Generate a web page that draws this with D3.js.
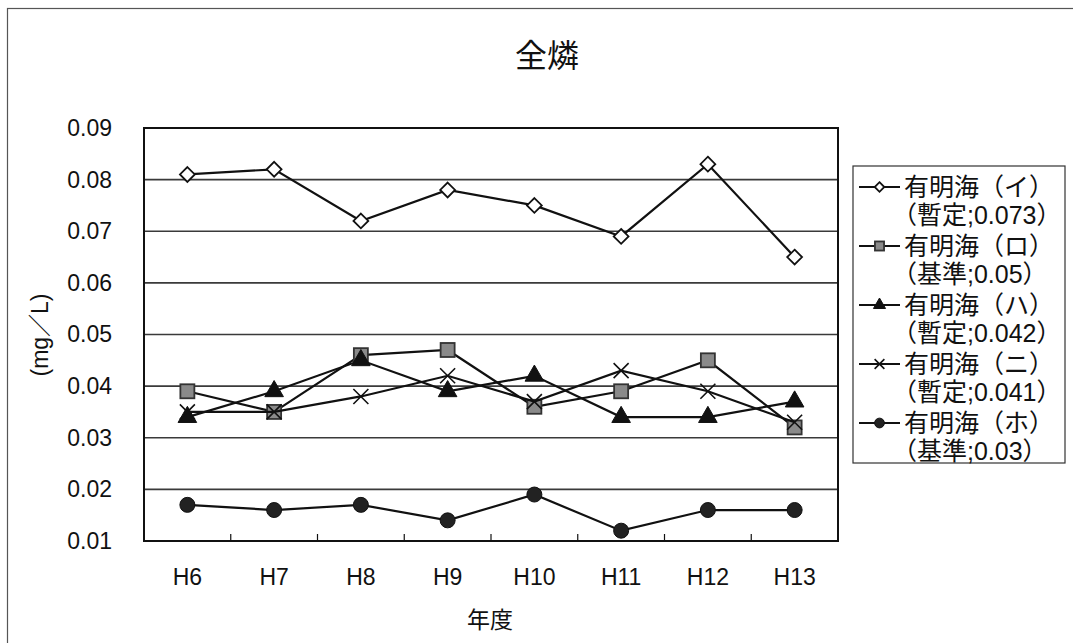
<!DOCTYPE html>
<html>
<head>
<meta charset="utf-8">
<script src="https://cdn.jsdelivr.net/npm/d3@7"></script>
<style>
  html, body { margin: 0; padding: 0; background: #fff; }
  svg { display: block; }
  text { font-family: "Liberation Sans", "Noto Sans CJK JP", sans-serif; fill: #111; }
</style>
</head>
<body>
<svg id="chart" width="1073" height="643"></svg>
<script>
// Fiscal years (Heisei)
const years = ["H6", "H7", "H8", "H9", "H10", "H11", "H12", "H13"];

// Total phosphorus (mg/L) at each Ariake Sea monitoring area
const seriesI   = [0.081, 0.082, 0.072, 0.078, 0.075, 0.069, 0.083, 0.065];
const seriesRo  = [0.039, 0.035, 0.046, 0.047, 0.036, 0.039, 0.045, 0.032];
const seriesHa  = [0.034, 0.039, 0.045, 0.039, 0.042, 0.034, 0.034, 0.037];
const seriesNi  = [0.035, 0.035, 0.038, 0.042, 0.037, 0.043, 0.039, 0.033];
const seriesHo  = [0.017, 0.016, 0.017, 0.014, 0.019, 0.012, 0.016, 0.016];

const seriesNames = ["有明海（イ）", "有明海（ロ）", "有明海（ハ）", "有明海（ニ）", "有明海（ホ）"];
const seriesNotes = ["（暫定;0.073）", "（基準;0.05）", "（暫定;0.042）", "（暫定;0.041）", "（基準;0.03）"];
const markerKinds = ["diamond", "square", "triangle", "cross", "circle"];

const yTicks = [0.01, 0.02, 0.03, 0.04, 0.05, 0.06, 0.07, 0.08, 0.09];

const series = [seriesI, seriesRo, seriesHa, seriesNi, seriesHo].map((vals, i) => ({
  name: seriesNames[i], note: seriesNotes[i], kind: markerKinds[i], values: vals
}));

const svg = d3.select("#chart");
const plot = { left: 144, right: 838, top: 128, bottom: 541 };

// Outer chart frame (extends past the right and bottom edges)
svg.append("rect")
  .attr("x", 7.5).attr("y", 8.5).attr("width", 1100).attr("height", 700)
  .attr("fill", "none").attr("stroke", "#555").attr("stroke-width", 1.2);

const x = d3.scaleBand().domain(years).range([plot.left, plot.right]);
const y = d3.scaleLinear().domain([0.01, 0.09]).range([plot.bottom, plot.top]);
const cx = d => x(d) + x.bandwidth() / 2;

// Horizontal gridlines
svg.append("g").selectAll("line").data(yTicks).join("line")
  .attr("x1", plot.left).attr("x2", plot.right)
  .attr("y1", d => y(d)).attr("y2", d => y(d))
  .attr("stroke", "#3a3a3a").attr("stroke-width", 1.6);

// Plot frame
svg.append("rect")
  .attr("x", plot.left).attr("y", plot.top)
  .attr("width", plot.right - plot.left).attr("height", plot.bottom - plot.top)
  .attr("fill", "none").attr("stroke", "#111").attr("stroke-width", 2);

// Category separator ticks along the bottom axis (inside the plot)
svg.append("g").selectAll("line").data(years.slice(1)).join("line")
  .attr("x1", d => x(d)).attr("x2", d => x(d))
  .attr("y1", plot.bottom).attr("y2", plot.bottom - 7)
  .attr("stroke", "#111").attr("stroke-width", 1.2);

// Y axis labels
const yAxis = svg.append("g")
  .attr("transform", `translate(${plot.left},0)`)
  .call(d3.axisLeft(y).tickValues(yTicks).tickFormat(d3.format(".2f")).tickSize(0).tickPadding(32));
yAxis.select(".domain").remove();
yAxis.selectAll("text").attr("font-size", 23).attr("font-family", "Liberation Sans, sans-serif").attr("fill", "#111");

// X axis labels
const xAxis = svg.append("g")
  .attr("transform", `translate(0,${plot.bottom})`)
  .call(d3.axisBottom(x).tickSize(0).tickPadding(28));
xAxis.select(".domain").remove();
xAxis.selectAll("text").attr("font-size", 23).attr("font-family", "Liberation Sans, sans-serif").attr("fill", "#111");

// Titles
svg.append("text").attr("x", 547).attr("y", 67).attr("text-anchor", "middle")
  .attr("font-size", 32).text("全燐");
svg.append("text").attr("x", 490).attr("y", 628).attr("text-anchor", "middle")
  .attr("font-size", 23).text("年度");
svg.append("text")
  .attr("transform", "translate(40,335) rotate(-90)")
  .attr("text-anchor", "middle").attr("dominant-baseline", "central")
  .attr("font-size", 23).text("(mg／L)");

// Marker drawing
function drawMarker(g, kind, s) {
  const k = s || 1;
  if (kind === "diamond") {
    g.append("path").attr("d", d3.symbol(d3.symbolDiamond2, 140 * k * k)())
      .attr("fill", "#fff").attr("stroke", "#111").attr("stroke-width", 1.8);
  } else if (kind === "square") {
    const h = 7 * k;
    g.append("rect").attr("x", -h).attr("y", -h).attr("width", 2 * h).attr("height", 2 * h)
      .attr("fill", "#8a8a8a").attr("stroke", "#333").attr("stroke-width", 1.8);
  } else if (kind === "triangle") {
    g.append("path").attr("d", d3.symbol(d3.symbolTriangle, 150 * k * k)())
      .attr("fill", "#111").attr("stroke", "#111").attr("stroke-width", 1);
  } else if (kind === "cross") {
    const h = 7.5 * k;
    g.append("path").attr("d", `M${-h},${-h}L${h},${h}M${-h},${h}L${h},${-h}`)
      .attr("stroke", "#111").attr("stroke-width", 1.6).attr("fill", "none");
  } else {
    g.append("circle").attr("r", 7.5 * k).attr("fill", "#222").attr("stroke", "#111");
  }
}

const line = d3.line().x((d, i) => cx(years[i])).y(d => y(d));

series.forEach(s => {
  const g = svg.append("g");
  g.append("path").datum(s.values).attr("d", line)
    .attr("fill", "none").attr("stroke", "#111").attr("stroke-width", 2.2);
  s.values.forEach((v, i) => {
    const m = g.append("g").attr("transform", `translate(${cx(years[i])},${y(v)})`);
    drawMarker(m, s.kind);
  });
});

// Legend
const legend = svg.append("g");
legend.append("rect").attr("x", 853).attr("y", 166).attr("width", 212).attr("height", 297)
  .attr("fill", "#fff").attr("stroke", "#333").attr("stroke-width", 1.2);
series.forEach((s, i) => {
  const cy = 187 + i * 59;
  const g = legend.append("g");
  g.append("line").attr("x1", 859).attr("x2", 900).attr("y1", cy).attr("y2", cy)
    .attr("stroke", "#111").attr("stroke-width", 2);
  drawMarker(g.append("g").attr("transform", `translate(879.5,${cy})`), s.kind, 0.65);
  g.append("text").attr("x", 904).attr("y", cy).attr("dominant-baseline", "central")
    .attr("font-size", 25).text(s.name);
  g.append("text").attr("x", 892).attr("y", cy + 28).attr("dominant-baseline", "central")
    .attr("font-size", 25).text(s.note);
});
</script>
</body>
</html>
